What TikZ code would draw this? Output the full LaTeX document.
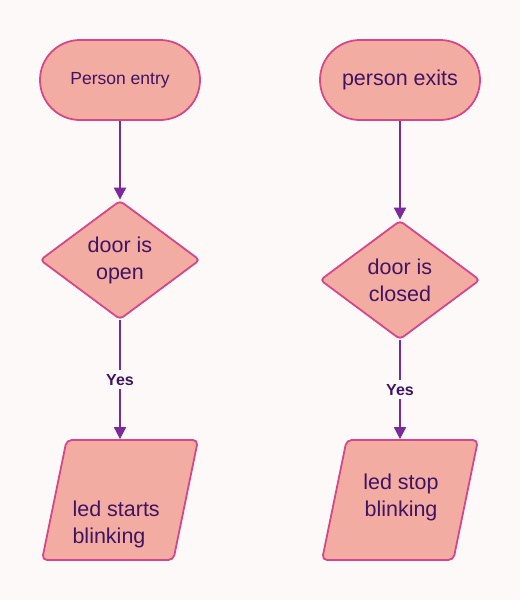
\documentclass[tikz,border=0pt]{standalone}
\usepackage{fontspec}
\setmainfont{Liberation Sans}
\usetikzlibrary{graphs,shapes.geometric,arrows.meta}

\definecolor{pagebg}{HTML}{FDF9F9}
\definecolor{boxfill}{HTML}{F2ACA2}
\definecolor{boxline}{HTML}{D6468A}
\definecolor{flowline}{HTML}{7B2A9B}
\definecolor{boxtext}{HTML}{3F1462}

\begin{document}
\begin{tikzpicture}[x=1pt, y=-1pt,
		>={Triangle[width=12pt,length=12pt]},
		boxfont/.style={font=\fontsize{21.5}{27}\selectfont, text=boxtext},
		terminal/.style={rectangle, draw=boxline, fill=boxfill, line width=1.8pt, rounded corners=40pt, minimum width=160pt, minimum height=80pt, boxfont},
		decision/.style={diamond, draw=boxline, fill=boxfill, line width=1.8pt, rounded corners=4pt, inner sep=0pt, aspect=1.34, minimum width=160pt, minimum height=119pt, align=center, boxfont},
		iobox/.style={trapezium, trapezium left angle=77, trapezium right angle=103, trapezium stretches=true, draw=boxline, fill=boxfill, line width=1.8pt, rounded corners=5pt, minimum width=156pt, minimum height=120pt},
		yesbox/.style={fill=pagebg, inner xsep=2pt, inner ysep=4pt, text=boxtext, font=\fontsize{16}{18}\selectfont\bfseries}]
		\fill[pagebg] (0,0) rectangle (520,600);
		\useasboundingbox (0,0) rectangle (520,600);
		
		\node (start_1) at (120,80) [terminal, font=\fontsize{17.5}{21}\selectfont] {Person entry};
		\node (start_2) at (400,80) [terminal] {person exits};
		\node (door_1) at (120,260) [decision] {door is\\open};
		\node (door_2) at (400,280) [decision] {door is\\closed};
		\node (led_1) at (120,500) [iobox] {};
		\node (led_2) at (400,500) [iobox] {};
		\node (led_1_txt) at (69,524) [anchor=west, align=left, boxfont] {led starts\\blinking};
		\node (led_2_txt) at (401,497) [align=center, boxfont] {led stop\\blinking};
		
		\graph [edges={draw=flowline, line width=2pt}] {
			(start_1) -> (door_1) ->[edge node={node[yesbox]{Yes}}] (led_1);
			(start_2) -> (door_2) ->[edge node={node[yesbox]{Yes}}] (led_2);
		};
	\end{tikzpicture}
\end{document}
